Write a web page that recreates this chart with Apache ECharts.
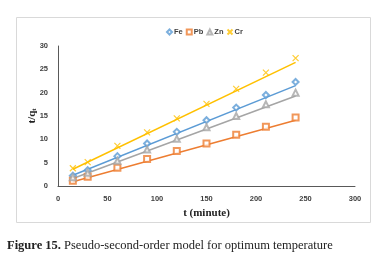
<!DOCTYPE html>
<html>
<head>
<meta charset="utf-8">
<script src="https://cdn.jsdelivr.net/npm/echarts@6/dist/echarts.min.js"></script>
<style>
  html, body { margin: 0; padding: 0; background: #fff; }
  #chart { width: 389px; height: 263px; }
</style>
</head>
<body>
<div id="chart"></div>
<script>
// time (minute)
const times = [15, 30, 60, 90, 120, 150, 180, 210, 240];
// t/qt
const fe = [2.2, 3.4, 6.4, 9.1, 11.6, 14.1, 16.8, 19.5, 22.3];
const pb = [1.1, 2.0, 3.9, 5.8, 7.5, 9.1, 11.0, 12.7, 14.7];
const zn = [1.9, 2.85, 5.4, 7.8, 10.1, 12.6, 15.0, 17.5, 20.0];
const cr = [3.8, 5.1, 8.6, 11.5, 14.5, 17.6, 20.8, 24.3, 27.4];
// linear trendline ends (at t=15 and t=240)
const trendX = [15, 240];
const feTrend = [2.3, 21.5];
const pbTrend = [0.9, 14.1];
const znTrend = [1.6, 19.3];
const crTrend = [3.6, 26.5];

const names = ['Fe', 'Pb', 'Zn', 'Cr'];
const colors = ['#5B9BD5', '#ED7D31', '#A5A5A5', '#FFC000'];
const symbols = ['emptyDiamond', 'emptyRect', 'emptyTriangle', 'path://M0,0L10,10M10,0L0,10'];
const values = [fe, pb, zn, cr];
const trends = [feTrend, pbTrend, znTrend, crTrend];

let chart = echarts.init(document.getElementById('chart'));

let series = [];
for (let i = 0; i < names.length; i++) {
    series.push({
        name: names[i] + ' trend',
        type: 'line',
        data: trendX.map((x, k) => [x, trends[i][k]]),
        symbol: 'none',
        silent: true,
        lineStyle: {color: colors[i], width: 1.5},
        z: 1
    });
}
for (let i = 0; i < names.length; i++) {
    series.push({
        name: names[i],
        type: 'scatter',
        data: times.map((x, k) => [x, values[i][k]]),
        symbol: symbols[i],
        symbolSize: 6,
        itemStyle: {
            color: i == 3 ? 'rgba(0,0,0,0)' : colors[i],
            borderColor: colors[i],
            borderWidth: 1.2
        },
        z: 3
    });
}

const tickFont = {color: '#404040', fontSize: 7.5, fontWeight: 'bold', fontFamily: 'Liberation Sans'};

let option = {
    animation: false,
    color: colors,
    grid: {left: 58, right: 34, top: 46, bottom: 77},
    legend: {
        data: names,
        top: 23,
        left: 161,
        itemWidth: 5,
        itemHeight: 5,
        itemGap: 3,
        textStyle: {color: '#404040', fontSize: 7.5, fontWeight: 'bold', fontFamily: 'Liberation Sans', padding: [0, 0, 0, -3]}
    },
    xAxis: {
        type: 'value',
        min: 0, max: 300, interval: 50,
        splitLine: {show: false},
        axisTick: {show: false},
        axisLine: {lineStyle: {color: '#595959', width: 1}},
        axisLabel: Object.assign({margin: 9}, tickFont),
        name: 't (minute)',
        nameLocation: 'middle',
        nameGap: 22,
        nameMoveOverlap: false,
        nameTextStyle: {fontFamily: 'Liberation Serif', fontWeight: 'bold', fontSize: 11, color: '#222'}
    },
    yAxis: {
        type: 'value',
        min: 0, max: 30, interval: 5,
        splitLine: {show: false},
        axisTick: {show: false},
        axisLine: {show: true, lineStyle: {color: '#595959', width: 1}},
        axisLabel: Object.assign({margin: 10}, tickFont),
        name: 't/q{s|t}',
        nameLocation: 'middle',
        nameGap: 20,
        nameMoveOverlap: false,
        nameTextStyle: {
            fontFamily: 'Liberation Serif', fontWeight: 'bold', fontSize: 11, color: '#222',
            rich: {s: {fontFamily: 'Liberation Serif', fontWeight: 'bold', fontSize: 7, color: '#222', padding: [5, 0, 0, 0]}}
        }
    },
    graphic: [
        {
            type: 'rect', left: 14, top: 15, silent: true,
            shape: {width: 354, height: 205},
            style: {fill: 'none', stroke: '#D9D9D9', lineWidth: 1}
        },
        {
            type: 'text', left: 7, top: 239,
            style: {
                text: '{b|Figure 15.} Pseudo-second-order model for optimum temperature',
                fill: '#222',
                font: '12.5px "Liberation Serif"',
                rich: {b: {fontWeight: 'bold', fontFamily: 'Liberation Serif', fontSize: 12.5, fill: '#222'}}
            }
        }
    ],
    series: series
};
chart.setOption(option);
</script>
</body>
</html>
